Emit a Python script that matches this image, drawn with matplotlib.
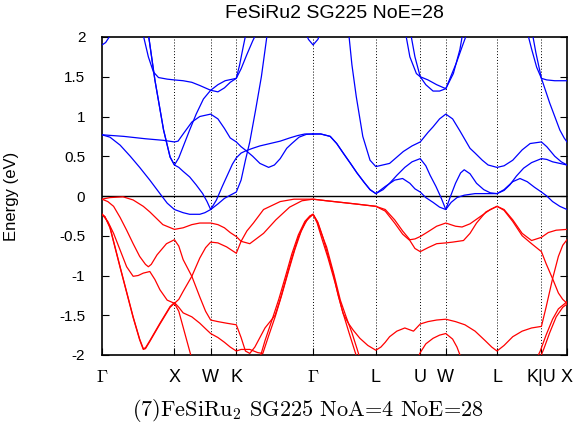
import numpy as np
import matplotlib
matplotlib.use('Agg')
import matplotlib.pyplot as plt

plt.rcParams['font.family'] = 'Liberation Sans'
plt.rcParams['mathtext.fontset'] = 'cm'
plt.rcParams['axes.unicode_minus'] = False

# high symmetry points along the fcc path (2pi/a units)
kpts = [0.0, 1.0, 1.5, 1.854, 2.914, 3.780, 4.393, 4.746, 5.453, 6.066, 6.419]
klabels = [r'$\Gamma$', 'X', 'W', 'K', r'$\Gamma$', 'L', 'U', 'W', 'L', 'K|U', 'X']
yticks = [-2, -1.5, -1, -0.5, 0, 0.5, 1, 1.5, 2]

# conduction bands (k, E)
cb1 = [(0.0, 0.77), (0.11, 0.74), (0.25, 0.64), (0.39, 0.5), (0.52, 0.36), (0.66, 0.2), (0.80, 0.03),
       (0.90, -0.09), (1.0, -0.17), (1.12, -0.21), (1.21, -0.23), (1.35, -0.23), (1.42, -0.21), (1.5, -0.17),
       (1.6, -0.1), (1.69, -0.03), (1.77, 0.01), (1.854, 0.05), (1.92, 0.2), (1.98, 0.45), (2.04, 0.68),
       (2.12, 1.08), (2.2, 1.5), (2.29, 2.1)]
cb2 = [(0.63, 2.1), (0.73, 1.46), (0.85, 0.83), (0.94, 0.49), (1.0, 0.39), (1.06, 0.36), (1.12, 0.31),
       (1.21, 0.24), (1.3, 0.14), (1.39, 0.03), (1.45, -0.07), (1.5, -0.17), (1.58, -0.05), (1.66, 0.12),
       (1.74, 0.28), (1.8, 0.4), (1.854, 0.48), (1.92, 0.54), (1.99, 0.57), (2.08, 0.5), (2.18, 0.41),
       (2.3, 0.36), (2.38, 0.39), (2.46, 0.47), (2.55, 0.6), (2.62, 0.66), (2.72, 0.74), (2.82, 0.775),
       (2.914, 0.78)]
cb3 = [(0.0, 0.77), (0.3, 0.75), (0.6, 0.72), (0.85, 0.7), (1.0, 0.68), (1.05, 0.69), (1.12, 0.78),
       (1.24, 0.93), (1.35, 1.0), (1.5, 1.03), (1.6, 0.97), (1.69, 0.85), (1.77, 0.73), (1.854, 0.68),
       (1.92, 0.62), (1.99, 0.57), (2.08, 0.6), (2.18, 0.63), (2.32, 0.66), (2.46, 0.69), (2.59, 0.73),
       (2.7, 0.76), (2.8, 0.78), (2.914, 0.78)]
cb4 = [(0.63, 2.1), (0.73, 1.46), (0.85, 0.83), (0.94, 0.49), (1.0, 0.39), (1.06, 0.48), (1.12, 0.62),
       (1.21, 0.83), (1.3, 1.03), (1.4, 1.22), (1.5, 1.33), (1.6, 1.4), (1.7, 1.45), (1.854, 1.48),
       (1.9, 1.65), (1.95, 1.88), (2.0, 2.1)]
cb5 = [(0.55, 2.1), (0.64, 1.75), (0.71, 1.56), (0.78, 1.49), (0.9, 1.47), (1.0, 1.46), (1.12, 1.45),
       (1.24, 1.43), (1.35, 1.39), (1.45, 1.35), (1.5, 1.33), (1.6, 1.31), (1.69, 1.36), (1.77, 1.43),
       (1.854, 1.48), (1.92, 1.6), (2.0, 1.78), (2.08, 1.95), (2.16, 2.1)]
cb6 = [(0.0, 1.9), (0.05, 1.93), (0.1, 2.0), (0.14, 2.1)]
cb7 = [(2.79, 2.1), (2.85, 1.97), (2.914, 1.9), (2.98, 1.97), (3.04, 2.1)]
cb8 = [(2.914, 0.78), (3.02, 0.78), (3.15, 0.75), (3.24, 0.66), (3.33, 0.54), (3.43, 0.41), (3.52, 0.29),
       (3.62, 0.17), (3.7, 0.08), (3.78, 0.03), (3.91, 0.12), (4.04, 0.2), (4.15, 0.22), (4.25, 0.16),
       (4.32, 0.09), (4.393, 0.05), (4.47, -0.02), (4.57, -0.08), (4.66, -0.14), (4.746, -0.17),
       (4.8, -0.03), (4.88, 0.16), (4.95, 0.29), (5.0, 0.33), (5.08, 0.28), (5.17, 0.16), (5.27, 0.08),
       (5.36, 0.04), (5.453, 0.03), (5.55, 0.08), (5.67, 0.18), (5.77, 0.22), (5.87, 0.18), (5.97, 0.11),
       (6.066, 0.05), (6.14, 0.0), (6.22, -0.07), (6.32, -0.13), (6.419, -0.17)]
cb9 = [(2.914, 0.78), (3.02, 0.78), (3.15, 0.75), (3.24, 0.66), (3.33, 0.54), (3.43, 0.41), (3.52, 0.29),
       (3.62, 0.17), (3.7, 0.08), (3.78, 0.03), (3.88, 0.08), (3.97, 0.16), (4.07, 0.26), (4.18, 0.36),
       (4.28, 0.43), (4.393, 0.47), (4.47, 0.38), (4.53, 0.26), (4.61, 0.12), (4.68, -0.02), (4.746, -0.17),
       (4.82, -0.08), (4.9, -0.02), (5.0, 0.01), (5.15, 0.03), (5.3, 0.03), (5.453, 0.03), (5.55, 0.07),
       (5.63, 0.14), (5.72, 0.25), (5.82, 0.35), (5.93, 0.42), (6.066, 0.47), (6.14, 0.46), (6.22, 0.43),
       (6.32, 0.41), (6.419, 0.39)]
cb10 = [(3.40, 2.1), (3.45, 1.65), (3.51, 1.25), (3.6, 0.75), (3.7, 0.45), (3.78, 0.37), (3.97, 0.41),
        (4.16, 0.56), (4.28, 0.63), (4.393, 0.68), (4.5, 0.8), (4.57, 0.87), (4.66, 0.97), (4.746, 1.03),
        (4.84, 0.97), (4.94, 0.82), (5.08, 0.6), (5.15, 0.54), (5.25, 0.45), (5.33, 0.39), (5.453, 0.36),
        (5.55, 0.38), (5.67, 0.45), (5.8, 0.58), (5.91, 0.66), (6.066, 0.68), (6.14, 0.62), (6.25, 0.5),
        (6.34, 0.43), (6.419, 0.39)]
cb11 = [(4.18, 2.1), (4.25, 1.75), (4.34, 1.54), (4.393, 1.5), (4.5, 1.46), (4.62, 1.4), (4.746, 1.35),
        (4.85, 1.54), (4.94, 1.84), (4.99, 2.1)]
cb12 = [(4.25, 2.1), (4.32, 1.75), (4.393, 1.5), (4.47, 1.4), (4.57, 1.32), (4.66, 1.32), (4.746, 1.35),
        (4.89, 1.67), (4.98, 1.9), (5.06, 2.1)]
cb13 = [(5.86, 2.1), (5.93, 1.85), (6.0, 1.62), (6.066, 1.48), (6.14, 1.46), (6.25, 1.45), (6.419, 1.45)]
cb14 = [(5.93, 2.1), (5.99, 1.8), (6.066, 1.48), (6.18, 1.17), (6.25, 1.0), (6.32, 0.83), (6.38, 0.73),
        (6.419, 0.68)]

# valence bands (k, E)
vb1 = [(0.0, -0.04), (0.11, -0.02), (0.29, -0.01), (0.43, -0.05), (0.57, -0.13), (0.66, -0.2), (0.84, -0.36),
       (1.0, -0.42), (1.12, -0.4), (1.24, -0.36), (1.35, -0.34), (1.5, -0.34), (1.6, -0.36), (1.69, -0.4),
       (1.77, -0.46), (1.854, -0.51), (1.92, -0.57), (2.04, -0.6), (2.23, -0.47), (2.4, -0.3), (2.59, -0.14),
       (2.76, -0.06), (2.914, -0.04), (3.1, -0.06), (3.3, -0.08), (3.5, -0.1), (3.78, -0.13), (3.91, -0.17),
       (4.04, -0.3), (4.15, -0.44), (4.25, -0.55), (4.32, -0.54), (4.393, -0.51), (4.5, -0.45), (4.62, -0.38),
       (4.746, -0.34), (4.88, -0.38), (4.97, -0.39), (5.08, -0.35), (5.22, -0.26), (5.36, -0.17),
       (5.453, -0.13), (5.55, -0.17), (5.67, -0.3), (5.8, -0.47), (5.93, -0.56), (6.066, -0.52),
       (6.16, -0.46), (6.27, -0.43), (6.419, -0.42)]
vb2 = [(0.0, -0.04), (0.08, -0.07), (0.16, -0.13), (0.25, -0.27), (0.34, -0.43), (0.43, -0.6), (0.52, -0.76),
       (0.6, -0.86), (0.64, -0.89), (0.68, -0.86), (0.76, -0.74), (0.89, -0.6), (1.0, -0.55), (1.06, -0.63),
       (1.12, -0.8), (1.24, -1.01), (1.35, -1.27), (1.43, -1.45), (1.5, -1.56), (1.6, -1.58), (1.72, -1.6),
       (1.854, -1.62), (1.92, -1.78), (1.98, -1.95), (2.04, -1.98), (2.11, -1.9), (2.18, -1.78),
       (2.25, -1.66), (2.32, -1.58), (2.39, -1.5), (2.46, -1.3), (2.54, -1.04), (2.62, -0.78), (2.71, -0.52),
       (2.8, -0.34), (2.87, -0.26), (2.914, -0.23), (2.98, -0.33), (3.05, -0.52), (3.12, -0.75),
       (3.19, -0.97), (3.26, -1.25), (3.33, -1.48), (3.4, -1.6), (3.47, -1.69), (3.56, -1.79), (3.67, -1.88),
       (3.78, -1.94), (3.85, -1.9), (3.91, -1.84), (3.97, -1.77), (4.07, -1.7), (4.18, -1.66), (4.3, -1.7),
       (4.393, -1.61), (4.5, -1.58), (4.62, -1.56), (4.746, -1.55), (4.88, -1.58), (5.01, -1.62),
       (5.15, -1.7), (5.29, -1.82), (5.38, -1.9), (5.453, -1.95), (5.55, -1.88), (5.67, -1.77), (5.8, -1.7),
       (5.93, -1.66), (6.066, -1.64), (6.13, -1.4), (6.22, -1.04), (6.3, -0.76), (6.36, -0.62), (6.419, -0.55)]
vb3 = [(0.0, -0.23), (0.08, -0.32), (0.16, -0.47), (0.25, -0.68), (0.34, -0.89), (0.43, -1.01), (0.5, -1.0),
       (0.57, -0.97), (0.66, -0.95), (0.73, -1.05), (0.8, -1.18), (0.9, -1.31), (1.0, -1.35), (1.06, -1.3),
       (1.12, -1.2), (1.24, -1.01), (1.35, -0.78), (1.43, -0.65), (1.5, -0.58), (1.6, -0.59), (1.72, -0.64),
       (1.854, -0.72), (1.92, -0.57), (2.0, -0.44), (2.09, -0.34), (2.23, -0.17), (2.46, -0.07),
       (2.65, -0.04), (2.914, -0.04), (3.1, -0.06), (3.3, -0.08), (3.5, -0.1), (3.78, -0.13), (3.91, -0.19),
       (4.04, -0.34), (4.15, -0.48), (4.25, -0.56), (4.32, -0.66), (4.393, -0.7), (4.5, -0.65), (4.62, -0.6),
       (4.746, -0.59), (4.84, -0.58), (4.99, -0.56), (5.08, -0.47), (5.17, -0.34), (5.3, -0.2),
       (5.453, -0.13), (5.55, -0.18), (5.67, -0.32), (5.8, -0.5), (5.93, -0.6), (6.066, -0.7), (6.13, -0.85),
       (6.22, -1.04), (6.3, -1.22), (6.36, -1.3), (6.419, -1.35)]
vb4 = [(0.0, -0.23), (0.04, -0.26), (0.11, -0.39), (0.25, -0.89), (0.43, -1.52), (0.52, -1.8), (0.57, -1.92),
       (0.6, -1.91), (0.66, -1.82), (0.8, -1.6), (0.94, -1.39), (1.0, -1.34), (1.06, -1.4), (1.12, -1.47),
       (1.24, -1.52), (1.35, -1.6), (1.43, -1.67), (1.5, -1.73), (1.6, -1.78), (1.69, -1.84), (1.77, -1.9),
       (1.854, -1.95), (1.92, -1.93), (2.04, -1.93), (2.15, -1.97), (2.22, -1.98), (2.3, -1.76),
       (2.39, -1.52), (2.48, -1.25), (2.57, -0.96), (2.66, -0.68), (2.75, -0.44), (2.83, -0.3),
       (2.914, -0.23), (2.97, -0.34), (3.04, -0.55), (3.12, -0.78), (3.22, -1.1), (3.32, -1.45),
       (3.41, -1.72), (3.5, -1.98), (3.54, -2.1)]
vb5 = [(0.0, -0.23), (0.04, -0.26), (0.11, -0.4), (0.25, -0.9), (0.43, -1.53), (0.52, -1.81), (0.57, -1.93),
       (0.6, -1.92), (0.66, -1.83), (0.8, -1.61), (0.94, -1.4), (1.0, -1.35), (1.06, -1.45), (1.12, -1.65),
       (1.18, -1.85), (1.24, -2.05), (1.27, -2.15)]
vb6 = [(2.16, -2.1), (2.25, -1.82), (2.35, -1.55), (2.44, -1.3), (2.53, -1.02), (2.62, -0.73), (2.71, -0.49),
       (2.8, -0.32), (2.87, -0.25), (2.914, -0.23), (2.97, -0.32), (3.04, -0.5), (3.1, -0.64), (3.2, -0.98),
       (3.29, -1.31), (3.37, -1.52), (3.45, -1.72), (3.52, -1.92), (3.56, -2.04), (3.58, -2.1)]
vb7 = [(4.33, -2.1), (4.393, -1.97), (4.47, -1.86), (4.57, -1.79), (4.66, -1.75), (4.746, -1.73),
       (4.84, -1.8), (4.9, -1.9), (4.95, -2.02), (4.98, -2.1)]
vb8 = [(5.97, -2.1), (6.05, -1.95), (6.13, -1.75), (6.22, -1.55), (6.3, -1.42), (6.419, -1.33)]
vb9 = [(6.02, -2.1), (6.1, -1.92), (6.18, -1.72), (6.27, -1.52), (6.36, -1.4), (6.419, -1.36)]

conduction = [cb1, cb2, cb3, cb4, cb5, cb6, cb7, cb8, cb9, cb10, cb11, cb12, cb13, cb14]
valence = [vb1, vb2, vb3, vb4, vb5, vb6, vb7, vb8, vb9]

fig = plt.figure(figsize=(5.74, 4.38), dpi=100)
ax = fig.add_axes([102/574, 83/438, 465/574, 318/438])

for kk in kpts[1:-1]:
    ax.axvline(kk, color='k', ls=(0, (1, 2)), lw=0.7, zorder=1)
ax.axhline(0, color='k', lw=1.0, zorder=2)

for band in conduction:
    k, e = np.array(band).T
    ax.plot(k, e, '-', c='#0000ff', lw=0.9, zorder=3)
for band in valence:
    k, e = np.array(band).T
    ax.plot(k, e, '-', c='#ff0000', lw=0.9, zorder=3)

ax.set_xlim(kpts[0], kpts[-1])
ax.set_ylim(-2, 2)
ax.set_xticks(kpts)
ax.set_xticklabels(klabels, fontsize=13)
ax.set_yticks(yticks)
ax.set_yticklabels(['%g' % v for v in yticks], fontsize=11)
ax.tick_params(axis='y', direction='in', length=5, width=0.8, right=True, pad=12)
ax.tick_params(axis='x', direction='in', length=5, width=0.8, top=False, pad=10)
for s in ax.spines.values():
    s.set_linewidth(1.2)

ax.set_ylabel('Energy (eV)', fontsize=12)
ax.yaxis.set_label_coords(-0.178, 0.5)

fig.text(334.5/574, 1 - 14/438, 'FeSiRu2 SG225 NoE=28', ha='center', va='center', fontsize=14)
fig.text(307.5/574, 1 - 411/438, r'(7)FeSiRu$_2$ SG225 NoA=4 NoE=28', ha='center', va='center',
         fontsize=16, family='cmr10')

plt.savefig('out.png', dpi=100)
